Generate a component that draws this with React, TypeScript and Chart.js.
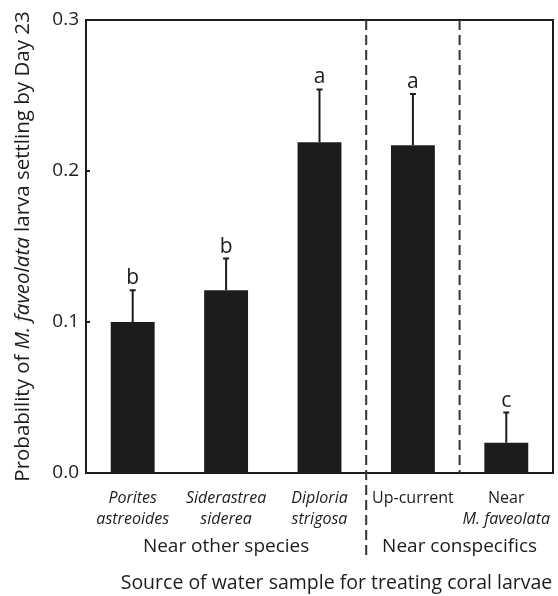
import React, { useEffect, useRef } from "react";
import { Chart, registerables } from "chart.js";

Chart.register(...registerables);

// Settlement probability by water source, with standard error and significance letters
const categories = ["Porites astreoides", "Siderastrea siderea", "Diploria strigosa", "Up-current", "Near M. faveolata"];
const values = [0.100, 0.121, 0.219, 0.217, 0.020];
const errors = [0.021, 0.021, 0.035, 0.034, 0.020];
const letters = ["b", "b", "a", "a", "c"];

// Tick label lines, each a list of [text, italic] segments
const tickLines: Array<Array<Array<[string, boolean]>>> = [
  [[["Porites", true]], [["astreoides", true]]],
  [[["Siderastrea", true]], [["siderea", true]]],
  [[["Diploria", true]], [["strigosa", true]]],
  [[["Up-current", false]]],
  [[["Near", false]], [["M. faveolata", true]]],
];

const groupNames = ["Near other species", "Near conspecifics"];
const groupStarts = [0, 3];
const groupEnds = [2, 4];
// dashed separators drawn after these category indices
const separatorsAfter = [2, 3];

const yTicks = [0, 0.1, 0.2, 0.3];
const yTitle: Array<[string, boolean]> = [
  ["Probability of ", false],
  ["M. faveolata", true],
  [" larva settling by Day 23", false],
];
const xTitle = "Source of water sample for treating coral larvae";

const FONT = "'Open Sans', 'Noto Sans', sans-serif";
const INK = "#1c1c1c";

function drawSegments(ctx: CanvasRenderingContext2D, segs: Array<[string, boolean]>, cx: number, cy: number, size: number) {
  const widths = segs.map(([t, it]) => {
    ctx.font = `${it ? "italic " : ""}${size}px ${FONT}`;
    return ctx.measureText(t).width;
  });
  const total = widths.reduce((a, b) => a + b, 0);
  let x = cx - total / 2;
  ctx.textAlign = "left";
  segs.forEach(([t, it], i) => {
    ctx.font = `${it ? "italic " : ""}${size}px ${FONT}`;
    ctx.fillText(t, x, cy);
    x += widths[i];
  });
}

const annotations = {
  id: "annotations",
  afterDatasetsDraw(chart: any) {
    const { ctx, chartArea } = chart;
    const { left, top, right, bottom } = chartArea;
    const xs = chart.scales.x;
    const ys = chart.scales.y;
    ctx.save();
    ctx.fillStyle = INK;
    ctx.strokeStyle = INK;

    // frame
    ctx.lineWidth = 2;
    ctx.strokeRect(left, top, right - left, bottom - top);

    // inward tick marks on the value axis
    ctx.beginPath();
    yTicks.forEach((t) => {
      const ty = ys.getPixelForValue(t);
      ctx.moveTo(left, ty);
      ctx.lineTo(left + 4, ty);
    });
    ctx.stroke();

    // error bars and letters
    values.forEach((v, i) => {
      const px = xs.getPixelForValue(i);
      const y0 = ys.getPixelForValue(v);
      const y1 = ys.getPixelForValue(v + errors[i]);
      ctx.lineWidth = 2;
      ctx.beginPath();
      ctx.moveTo(px, y0);
      ctx.lineTo(px, y1);
      ctx.moveTo(px - 3, y1);
      ctx.lineTo(px + 3, y1);
      ctx.stroke();
      ctx.font = `21px ${FONT}`;
      ctx.textAlign = "center";
      ctx.textBaseline = "alphabetic";
      ctx.fillText(letters[i], px, y1 - 6);
    });

    // group separators
    ctx.setLineDash([10, 5]);
    ctx.lineWidth = 2;
    ctx.strokeStyle = "#333";
    separatorsAfter.forEach((i) => {
      const sx = (xs.getPixelForValue(i) + xs.getPixelForValue(i + 1)) / 2;
      const isGroupEdge = groupStarts.includes(i + 1);
      ctx.beginPath();
      ctx.moveTo(sx, top);
      ctx.lineTo(sx, isGroupEdge ? bottom + 85 : bottom);
      ctx.stroke();
    });
    ctx.setLineDash([]);

    // category labels
    ctx.fillStyle = INK;
    ctx.textBaseline = "middle";
    tickLines.forEach((lines, i) => {
      const px = xs.getPixelForValue(i);
      lines.forEach((segs, j) => {
        drawSegments(ctx, segs, px, bottom + 25 + j * 21, 16);
      });
    });

    // group labels
    groupNames.forEach((name, g) => {
      const a = g === 0 ? left : (xs.getPixelForValue(groupStarts[g]) + xs.getPixelForValue(groupStarts[g] - 1)) / 2;
      const b = g === groupNames.length - 1 ? right : (xs.getPixelForValue(groupEnds[g]) + xs.getPixelForValue(groupEnds[g] + 1)) / 2;
      drawSegments(ctx, [[name, false]], (a + b) / 2, bottom + 74, 19);
    });

    // axis titles
    drawSegments(ctx, [[xTitle, false]], (left + right) / 2 + 17, bottom + 110, 19.5);
    ctx.translate(23, (top + bottom) / 2);
    ctx.rotate(-Math.PI / 2);
    drawSegments(ctx, yTitle, 0, 0, 20.5);
    ctx.restore();
  },
};

export default function App() {
  const ref = useRef<HTMLCanvasElement>(null);
  useEffect(() => {
    if (!ref.current) return;
    const chart = new Chart(ref.current, {
      type: "bar",
      data: {
        labels: categories,
        datasets: [
          {
            data: values,
            backgroundColor: INK,
            borderWidth: 0,
            barPercentage: 0.47,
            categoryPercentage: 1,
          },
        ],
      },
      options: {
        animation: false,
        responsive: false,
        layout: { padding: { top: 20, right: 5, bottom: 123, left: 0 } },
        plugins: { legend: { display: false }, tooltip: { enabled: false } },
        scales: {
          x: { display: false },
          y: {
            min: 0,
            max: 0.3,
            afterFit(s: any) {
              s.width = 86;
            },
            afterBuildTicks(s: any) {
              s.ticks = yTicks.map((v) => ({ value: v }));
            },
            ticks: {
              padding: 7,
              color: INK,
              font: { family: FONT, size: 19 },
              callback: (v: any) => Number(v).toFixed(1),
            },
            grid: {
              display: true,
              drawOnChartArea: false,
              drawTicks: false,
            },
            border: { display: true, color: INK, width: 2 },
          },
        },
      },
      plugins: [annotations],
    });
    return () => chart.destroy();
  }, []);
  return (
    <div style={{ position: "absolute", left: 0, top: 0, width: 558, height: 596, background: "#fff" }}>
      <canvas ref={ref} width={558} height={596} />
    </div>
  );
}
